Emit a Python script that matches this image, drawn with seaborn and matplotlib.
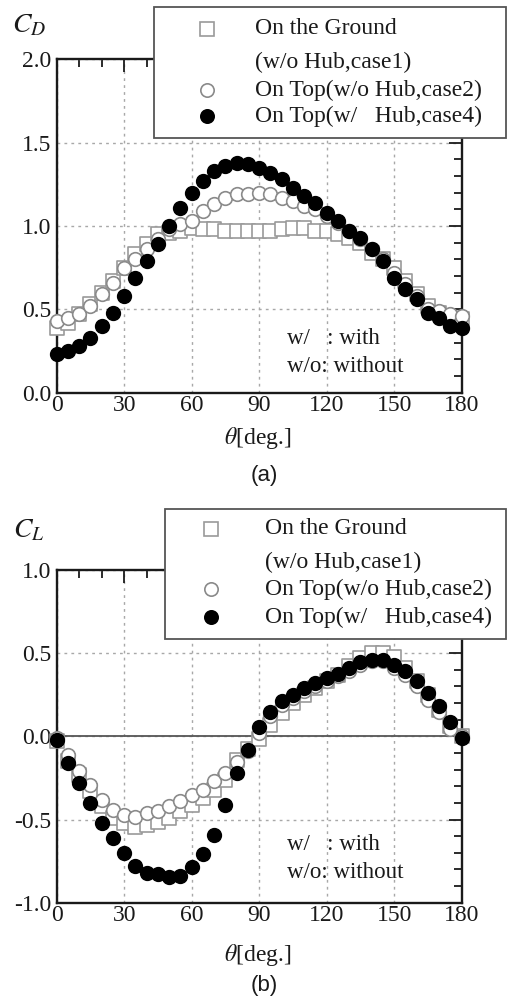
import numpy as np
import pandas as pd
import matplotlib
matplotlib.use("Agg")
import matplotlib.pyplot as plt
from matplotlib.patches import Rectangle
from matplotlib.lines import Line2D
from matplotlib.ticker import MultipleLocator, FormatStrFormatter
import seaborn as sns

# ---- data -------------------------------------------------------------
theta = list(range(0, 181, 5))

cd_case1 = [0.39, 0.42, 0.47, 0.53, 0.60, 0.67, 0.75, 0.83, 0.89, 0.95,
            0.96, 0.97, 0.99, 0.98, 0.98, 0.97, 0.97, 0.97, 0.97, 0.97,
            0.98, 0.99, 0.99, 0.97, 0.97, 0.95, 0.93, 0.90, 0.84, 0.80,
            0.75, 0.67, 0.59, 0.52, 0.48, 0.45, 0.44]
cd_case2 = [0.43, 0.45, 0.47, 0.52, 0.59, 0.66, 0.75, 0.80, 0.86, 0.92,
            0.98, 1.01, 1.03, 1.09, 1.13, 1.17, 1.19, 1.19, 1.20, 1.19,
            1.17, 1.15, 1.12, 1.10, 1.06, 1.02, 0.97, 0.92, 0.86, 0.80,
            0.72, 0.65, 0.58, 0.50, 0.49, 0.47, 0.46]
cd_case4 = [0.23, 0.25, 0.28, 0.33, 0.40, 0.48, 0.58, 0.69, 0.79, 0.89,
            1.00, 1.11, 1.20, 1.27, 1.33, 1.36, 1.38, 1.37, 1.35, 1.32,
            1.28, 1.23, 1.18, 1.14, 1.08, 1.03, 0.97, 0.93, 0.86, 0.79,
            0.69, 0.62, 0.56, 0.48, 0.45, 0.40, 0.39]

cl_case1 = [-0.03, -0.15, -0.235, -0.33, -0.42, -0.49, -0.52, -0.545, -0.535, -0.515,
            -0.49, -0.45, -0.41, -0.37, -0.325, -0.26, -0.145, -0.075, -0.015, 0.07,
            0.14, 0.20, 0.25, 0.29, 0.33, 0.37, 0.42, 0.47, 0.50, 0.50,
            0.48, 0.41, 0.33, 0.25, 0.16, 0.06, 0.00]
cl_case2 = [-0.01, -0.11, -0.21, -0.29, -0.38, -0.44, -0.47, -0.485, -0.46, -0.45,
            -0.42, -0.39, -0.355, -0.32, -0.27, -0.22, -0.155, -0.09, 0.02, 0.12,
            0.19, 0.23, 0.27, 0.30, 0.33, 0.36, 0.39, 0.43, 0.45, 0.45,
            0.41, 0.37, 0.30, 0.22, 0.146, 0.046, 0.00]
cl_case4 = [-0.02, -0.16, -0.28, -0.40, -0.52, -0.61, -0.70, -0.78, -0.82, -0.83,
            -0.845, -0.84, -0.785, -0.71, -0.595, -0.41, -0.22, -0.08, 0.056, 0.146,
            0.21, 0.25, 0.29, 0.32, 0.35, 0.377, 0.41, 0.445, 0.46, 0.46,
            0.43, 0.39, 0.33, 0.26, 0.18, 0.086, -0.01]

labels = ["On the Ground\n(w/o Hub,case1)",
          "On Top(w/o Hub,case2)",
          "On Top(w/   Hub,case4)"]
note_lines = ["w/   : with", "w/o: without"]

# ---- style ------------------------------------------------------------
sns.set_theme(style="white")
plt.rcParams["font.family"] = ["Liberation Serif", "DejaVu Serif"]
plt.rcParams["mathtext.fontset"] = "stix"
plt.rcParams["axes.unicode_minus"] = False

W, H = 507, 1001
fig = plt.figure(figsize=(W / 100, H / 100), dpi=100)
INK = "#1a1a1a"


def fx(x):
    return x / W


def fy(y):
    return 1 - y / H


series_style = [
    dict(marker="s", facecolor="white", edgecolor="#9a9a9a"),
    dict(marker="o", facecolor="white", edgecolor="#8a8a8a"),
    dict(marker="o", facecolor="black", edgecolor="black"),
]
MS = 96


def panel(ax, values, ylim, ylabel_txt, ylab_xy, legend_box, legend_rows,
          marker_x, text_x, note_y, tag, tag_y, xlab_y, zero_line=False):
    df = pd.DataFrame({"theta": theta * 3,
                       "value": values[0] + values[1] + values[2],
                       "case": sum([[lab] * len(theta) for lab in labels], [])})
    for lab, st in zip(labels, series_style):
        sub = df[df["case"] == lab]
        sns.scatterplot(data=sub, x="theta", y="value", ax=ax, s=MS,
                        marker=st["marker"], color=st["facecolor"],
                        edgecolor=st["edgecolor"], linewidth=1.2,
                        legend=False, zorder=3, clip_on=False)
    ax.set_xlim(0, 180)
    ax.set_ylim(*ylim)
    ax.xaxis.set_major_locator(MultipleLocator(30))
    ax.xaxis.set_minor_locator(MultipleLocator(10))
    ax.yaxis.set_major_locator(MultipleLocator(0.5))
    ax.yaxis.set_minor_locator(MultipleLocator(0.1))
    ax.yaxis.set_major_formatter(FormatStrFormatter("%.1f"))
    ax.tick_params(which="both", direction="in", top=True, right=True,
                   colors=INK, labelsize=17, width=1.3)
    ax.tick_params(which="major", length=9.5, pad=4)
    ax.tick_params(which="minor", length=5.5)
    ax.tick_params(axis="x", which="major", pad=2)
    for s in ax.spines.values():
        s.set_linewidth(1.7)
        s.set_color(INK)
    ax.grid(True, which="major", color="#a8a8a8", linestyle=(0, (2, 3)),
            linewidth=1.0)
    if zero_line:
        ax.axhline(0, color="#555555", linewidth=1.3, zorder=2)
    ax.set_xlabel("")
    ax.set_ylabel("")

    # axis titles
    fig.text(fx(ylab_xy[0]), fy(ylab_xy[1]), ylabel_txt, fontsize=20,
             ha="left", va="center", color=INK)
    fig.text(fx(258), fy(xlab_y), r"$\theta$[deg.]", fontsize=17,
             ha="center", va="center", color=INK)
    fig.text(fx(264), fy(tag_y), tag, fontsize=16, ha="center", va="center",
             family="Liberation Sans", color=INK)

    # notes inside the plot
    for line, yy in zip(note_lines, note_y):
        fig.text(fx(287), fy(yy), line, fontsize=16.5, ha="left",
                 va="center", color=INK)

    # legend box
    x0, y0, x1, y1 = legend_box
    fig.add_artist(Rectangle((fx(x0), fy(y1)), fx(x1) - fx(x0),
                             fy(y0) - fy(y1), transform=fig.transFigure,
                             facecolor="white", edgecolor="#555555",
                             linewidth=1.3, zorder=5))
    row_text = ["On the Ground", "(w/o Hub,case1)", labels[1], labels[2]]
    row_marker = [0, None, 1, 2]
    for txt, mi, yy in zip(row_text, row_marker, legend_rows):
        fig.text(fx(text_x), fy(yy), txt, fontsize=17, ha="left",
                 va="center", color=INK, zorder=6)
        if mi is not None:
            st = series_style[mi]
            fig.add_artist(Line2D([fx(marker_x)], [fy(yy)],
                                  transform=fig.transFigure,
                                  marker=st["marker"], markersize=9.6,
                                  markerfacecolor=st["facecolor"],
                                  markeredgecolor=st["edgecolor"],
                                  markeredgewidth=1.2, linestyle="none",
                                  zorder=6))


ax1 = fig.add_axes([fx(56.7), fy(392.7), fx(461.7) - fx(56.7),
                    fy(59.4) - fy(392.7)])
panel(ax1, [cd_case1, cd_case2, cd_case4], (0, 2.0), r"$C_D$", (12, 26),
      (154, 7, 506, 138), [29, 62, 90, 116], 207, 255, [339, 367],
      "(a)", 475, 438)

ax2 = fig.add_axes([fx(56.7), fy(902.7), fx(461.7) - fx(56.7),
                    fy(570) - fy(902.7)])
panel(ax2, [cl_case1, cl_case2, cl_case4], (-1.0, 1.0), r"$C_L$", (13, 531),
      (165, 509, 506, 639), [529, 562, 589, 617], 211, 265, [845, 873],
      "(b)", 985, 955, zero_line=True)

fig.savefig("out.png", dpi=100)
